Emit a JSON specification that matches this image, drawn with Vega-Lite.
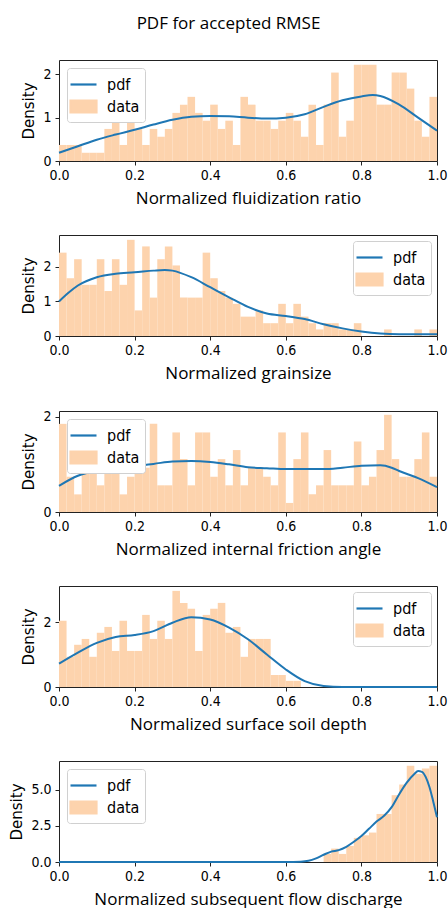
{
"$schema": "https://vega.github.io/schema/vega-lite/v6.json",
"title": {"text": "PDF for accepted RMSE", "font": "Open Sans", "fontSize": 17, "fontWeight": "normal", "color": "#000", "anchor": "middle", "offset": 27},
"padding": {"left": 9, "top": 14, "right": 10, "bottom": 0},
"spacing": 27,
"datasets": {
"hist": [
{"p":1,"x":0,"xe":0.02,"d":0.37},{"p":1,"x":0.02,"xe":0.04,"d":0.37},{"p":1,"x":0.04,"xe":0.06,"d":0.37},{"p":1,"x":0.06,"xe":0.08,"d":0.19},{"p":1,"x":0.08,"xe":0.1,"d":0.19},
{"p":1,"x":0.1,"xe":0.12,"d":0.19},{"p":1,"x":0.12,"xe":0.14,"d":0.74},{"p":1,"x":0.14,"xe":0.16,"d":0.93},{"p":1,"x":0.16,"xe":0.18,"d":0.37},{"p":1,"x":0.18,"xe":0.2,"d":1.11},
{"p":1,"x":0.2,"xe":0.22,"d":0.74},{"p":1,"x":0.22,"xe":0.24,"d":0.37},{"p":1,"x":0.24,"xe":0.26,"d":0.74},{"p":1,"x":0.26,"xe":0.28,"d":0.56},{"p":1,"x":0.28,"xe":0.3,"d":0.74},
{"p":1,"x":0.3,"xe":0.32,"d":1.11},{"p":1,"x":0.32,"xe":0.34,"d":1.30},{"p":1,"x":0.34,"xe":0.36,"d":1.48},{"p":1,"x":0.36,"xe":0.38,"d":1.11},{"p":1,"x":0.38,"xe":0.4,"d":0.93},
{"p":1,"x":0.4,"xe":0.42,"d":1.30},{"p":1,"x":0.42,"xe":0.44,"d":0.74},{"p":1,"x":0.44,"xe":0.46,"d":0.93},{"p":1,"x":0.46,"xe":0.48,"d":0.37},{"p":1,"x":0.48,"xe":0.5,"d":1.48},
{"p":1,"x":0.5,"xe":0.52,"d":1.30},{"p":1,"x":0.52,"xe":0.54,"d":0.93},{"p":1,"x":0.54,"xe":0.56,"d":0.93},{"p":1,"x":0.56,"xe":0.58,"d":0.74},{"p":1,"x":0.58,"xe":0.6,"d":0.93},
{"p":1,"x":0.6,"xe":0.62,"d":1.11},{"p":1,"x":0.62,"xe":0.64,"d":0.93},{"p":1,"x":0.64,"xe":0.66,"d":0.56},{"p":1,"x":0.66,"xe":0.68,"d":1.30},{"p":1,"x":0.68,"xe":0.7,"d":0.37},
{"p":1,"x":0.7,"xe":0.72,"d":1.30},{"p":1,"x":0.72,"xe":0.74,"d":2.04},{"p":1,"x":0.74,"xe":0.76,"d":0.56},{"p":1,"x":0.76,"xe":0.78,"d":0.93},{"p":1,"x":0.78,"xe":0.8,"d":2.22},
{"p":1,"x":0.8,"xe":0.82,"d":2.22},{"p":1,"x":0.82,"xe":0.84,"d":2.22},{"p":1,"x":0.84,"xe":0.86,"d":1.30},{"p":1,"x":0.86,"xe":0.88,"d":1.30},{"p":1,"x":0.88,"xe":0.9,"d":2.04},
{"p":1,"x":0.9,"xe":0.92,"d":2.04},{"p":1,"x":0.92,"xe":0.94,"d":1.67},{"p":1,"x":0.94,"xe":0.96,"d":0.93},{"p":1,"x":0.96,"xe":0.98,"d":0.56},{"p":1,"x":0.98,"xe":1.0,"d":1.48},

{"p":2,"x":0,"xe":0.02,"d":2.41},{"p":2,"x":0.02,"xe":0.04,"d":1.67},{"p":2,"x":0.04,"xe":0.06,"d":2.22},{"p":2,"x":0.06,"xe":0.08,"d":1.48},{"p":2,"x":0.08,"xe":0.1,"d":1.48},
{"p":2,"x":0.1,"xe":0.12,"d":2.22},{"p":2,"x":0.12,"xe":0.14,"d":1.30},{"p":2,"x":0.14,"xe":0.16,"d":2.22},{"p":2,"x":0.16,"xe":0.18,"d":1.48},{"p":2,"x":0.18,"xe":0.2,"d":2.78},
{"p":2,"x":0.2,"xe":0.22,"d":0.74},{"p":2,"x":0.22,"xe":0.24,"d":2.59},{"p":2,"x":0.24,"xe":0.26,"d":1.11},{"p":2,"x":0.26,"xe":0.28,"d":2.22},{"p":2,"x":0.28,"xe":0.3,"d":2.59},
{"p":2,"x":0.3,"xe":0.32,"d":2.04},{"p":2,"x":0.32,"xe":0.34,"d":1.11},{"p":2,"x":0.34,"xe":0.36,"d":1.11},{"p":2,"x":0.36,"xe":0.38,"d":1.11},{"p":2,"x":0.38,"xe":0.4,"d":2.41},
{"p":2,"x":0.4,"xe":0.42,"d":1.67},{"p":2,"x":0.42,"xe":0.44,"d":1.30},{"p":2,"x":0.44,"xe":0.46,"d":1.11},{"p":2,"x":0.46,"xe":0.48,"d":0.93},{"p":2,"x":0.48,"xe":0.5,"d":0.56},
{"p":2,"x":0.5,"xe":0.52,"d":0.56},{"p":2,"x":0.52,"xe":0.54,"d":0.74},{"p":2,"x":0.54,"xe":0.56,"d":0.37},{"p":2,"x":0.56,"xe":0.58,"d":0.37},{"p":2,"x":0.58,"xe":0.6,"d":0.93},
{"p":2,"x":0.6,"xe":0.62,"d":0.37},{"p":2,"x":0.62,"xe":0.64,"d":0.93},{"p":2,"x":0.64,"xe":0.66,"d":0.56},{"p":2,"x":0.66,"xe":0.68,"d":0.37},{"p":2,"x":0.68,"xe":0.7,"d":0.19},
{"p":2,"x":0.7,"xe":0.72,"d":0.37},{"p":2,"x":0.72,"xe":0.74,"d":0.37},{"p":2,"x":0.74,"xe":0.76,"d":0.19},{"p":2,"x":0.76,"xe":0.78,"d":0.19},{"p":2,"x":0.78,"xe":0.8,"d":0.37},
{"p":2,"x":0.86,"xe":0.88,"d":0.19},{"p":2,"x":0.94,"xe":0.96,"d":0.19},{"p":2,"x":0.98,"xe":1.0,"d":0.19},

{"p":3,"x":0,"xe":0.02,"d":1.85},{"p":3,"x":0.02,"xe":0.04,"d":0.74},{"p":3,"x":0.04,"xe":0.06,"d":0.37},{"p":3,"x":0.06,"xe":0.08,"d":1.48},{"p":3,"x":0.08,"xe":0.1,"d":1.30},
{"p":3,"x":0.1,"xe":0.12,"d":0.56},{"p":3,"x":0.12,"xe":0.14,"d":1.48},{"p":3,"x":0.14,"xe":0.16,"d":0.93},{"p":3,"x":0.16,"xe":0.18,"d":0.37},{"p":3,"x":0.18,"xe":0.2,"d":0.74},
{"p":3,"x":0.2,"xe":0.22,"d":0.93},{"p":3,"x":0.22,"xe":0.24,"d":0.93},{"p":3,"x":0.24,"xe":0.26,"d":1.85},{"p":3,"x":0.26,"xe":0.28,"d":0.56},{"p":3,"x":0.28,"xe":0.3,"d":0.56},
{"p":3,"x":0.3,"xe":0.32,"d":1.67},{"p":3,"x":0.32,"xe":0.34,"d":1.11},{"p":3,"x":0.34,"xe":0.36,"d":0.56},{"p":3,"x":0.36,"xe":0.38,"d":1.67},{"p":3,"x":0.38,"xe":0.4,"d":1.67},
{"p":3,"x":0.4,"xe":0.42,"d":0.74},{"p":3,"x":0.42,"xe":0.44,"d":1.11},{"p":3,"x":0.44,"xe":0.46,"d":0.56},{"p":3,"x":0.46,"xe":0.48,"d":1.30},{"p":3,"x":0.48,"xe":0.5,"d":0.56},
{"p":3,"x":0.5,"xe":0.52,"d":0.93},{"p":3,"x":0.52,"xe":0.54,"d":0.93},{"p":3,"x":0.54,"xe":0.56,"d":0.74},{"p":3,"x":0.56,"xe":0.58,"d":0.56},{"p":3,"x":0.58,"xe":0.6,"d":1.67},
{"p":3,"x":0.6,"xe":0.62,"d":0.19},{"p":3,"x":0.62,"xe":0.64,"d":1.11},{"p":3,"x":0.64,"xe":0.66,"d":1.67},{"p":3,"x":0.66,"xe":0.68,"d":0.37},{"p":3,"x":0.68,"xe":0.7,"d":0.56},
{"p":3,"x":0.7,"xe":0.72,"d":1.30},{"p":3,"x":0.72,"xe":0.74,"d":0.56},{"p":3,"x":0.74,"xe":0.76,"d":0.56},{"p":3,"x":0.76,"xe":0.78,"d":0.56},{"p":3,"x":0.78,"xe":0.8,"d":1.48},
{"p":3,"x":0.8,"xe":0.82,"d":0.56},{"p":3,"x":0.82,"xe":0.84,"d":0.74},{"p":3,"x":0.84,"xe":0.86,"d":1.30},{"p":3,"x":0.86,"xe":0.88,"d":2.04},{"p":3,"x":0.88,"xe":0.9,"d":1.11},
{"p":3,"x":0.9,"xe":0.92,"d":0.74},{"p":3,"x":0.92,"xe":0.94,"d":0.74},{"p":3,"x":0.94,"xe":0.96,"d":1.11},{"p":3,"x":0.96,"xe":0.98,"d":1.67},{"p":3,"x":0.98,"xe":1.0,"d":0.74},

{"p":4,"x":0,"xe":0.02,"d":2.04},{"p":4,"x":0.02,"xe":0.04,"d":0.93},{"p":4,"x":0.04,"xe":0.06,"d":1.30},{"p":4,"x":0.06,"xe":0.08,"d":1.48},{"p":4,"x":0.08,"xe":0.1,"d":0.93},
{"p":4,"x":0.1,"xe":0.12,"d":1.67},{"p":4,"x":0.12,"xe":0.14,"d":1.85},{"p":4,"x":0.14,"xe":0.16,"d":1.11},{"p":4,"x":0.16,"xe":0.18,"d":2.04},{"p":4,"x":0.18,"xe":0.2,"d":1.11},
{"p":4,"x":0.2,"xe":0.22,"d":1.11},{"p":4,"x":0.22,"xe":0.24,"d":2.22},{"p":4,"x":0.24,"xe":0.26,"d":1.48},{"p":4,"x":0.26,"xe":0.28,"d":2.04},{"p":4,"x":0.28,"xe":0.3,"d":1.48},
{"p":4,"x":0.3,"xe":0.32,"d":2.96},{"p":4,"x":0.32,"xe":0.34,"d":2.59},{"p":4,"x":0.34,"xe":0.36,"d":2.41},{"p":4,"x":0.36,"xe":0.38,"d":1.11},{"p":4,"x":0.38,"xe":0.4,"d":2.22},
{"p":4,"x":0.4,"xe":0.42,"d":2.41},{"p":4,"x":0.42,"xe":0.44,"d":2.59},{"p":4,"x":0.44,"xe":0.46,"d":1.67},{"p":4,"x":0.46,"xe":0.48,"d":1.85},{"p":4,"x":0.48,"xe":0.5,"d":0.93},
{"p":4,"x":0.5,"xe":0.52,"d":1.48},{"p":4,"x":0.52,"xe":0.54,"d":1.48},{"p":4,"x":0.54,"xe":0.56,"d":1.48},{"p":4,"x":0.56,"xe":0.58,"d":0.37},{"p":4,"x":0.58,"xe":0.6,"d":0.37},
{"p":4,"x":0.6,"xe":0.62,"d":0.19},{"p":4,"x":0.62,"xe":0.64,"d":0.19},

{"p":5,"x":0.7,"xe":0.72,"d":0.56},{"p":5,"x":0.72,"xe":0.74,"d":0.93},{"p":5,"x":0.74,"xe":0.76,"d":0.56},{"p":5,"x":0.76,"xe":0.78,"d":1.11},{"p":5,"x":0.78,"xe":0.8,"d":1.67},
{"p":5,"x":0.8,"xe":0.82,"d":1.85},{"p":5,"x":0.82,"xe":0.84,"d":2.04},{"p":5,"x":0.84,"xe":0.86,"d":3.33},{"p":5,"x":0.86,"xe":0.88,"d":3.33},{"p":5,"x":0.88,"xe":0.9,"d":4.63},
{"p":5,"x":0.9,"xe":0.92,"d":5.37},{"p":5,"x":0.92,"xe":0.94,"d":6.67},{"p":5,"x":0.94,"xe":0.96,"d":6.11},{"p":5,"x":0.96,"xe":0.98,"d":6.48},{"p":5,"x":0.98,"xe":1.0,"d":6.67}
],
"pdf": [
{"p":1,"x":0,"d":0.19},{"p":1,"x":0.05,"d":0.34},{"p":1,"x":0.1,"d":0.49},{"p":1,"x":0.15,"d":0.61},{"p":1,"x":0.2,"d":0.72},{"p":1,"x":0.25,"d":0.84},{"p":1,"x":0.3,"d":0.95},{"p":1,"x":0.35,"d":1.02},{"p":1,"x":0.4,"d":1.04},{"p":1,"x":0.45,"d":1.03},{"p":1,"x":0.5,"d":1.0},{"p":1,"x":0.55,"d":0.98},{"p":1,"x":0.6,"d":1.0},{"p":1,"x":0.65,"d":1.08},{"p":1,"x":0.7,"d":1.25},{"p":1,"x":0.75,"d":1.4},{"p":1,"x":0.8,"d":1.49},{"p":1,"x":0.83,"d":1.52},{"p":1,"x":0.85,"d":1.5},{"p":1,"x":0.9,"d":1.3},{"p":1,"x":0.95,"d":1.0},{"p":1,"x":1.0,"d":0.7},
{"p":2,"x":0,"d":1.0},{"p":2,"x":0.025,"d":1.25},{"p":2,"x":0.05,"d":1.46},{"p":2,"x":0.1,"d":1.7},{"p":2,"x":0.15,"d":1.8},{"p":2,"x":0.2,"d":1.84},{"p":2,"x":0.25,"d":1.89},{"p":2,"x":0.28,"d":1.91},{"p":2,"x":0.3,"d":1.89},{"p":2,"x":0.35,"d":1.7},{"p":2,"x":0.4,"d":1.41},{"p":2,"x":0.45,"d":1.12},{"p":2,"x":0.5,"d":0.84},{"p":2,"x":0.55,"d":0.65},{"p":2,"x":0.6,"d":0.58},{"p":2,"x":0.65,"d":0.49},{"p":2,"x":0.7,"d":0.34},{"p":2,"x":0.75,"d":0.22},{"p":2,"x":0.8,"d":0.13},{"p":2,"x":0.85,"d":0.07},{"p":2,"x":0.9,"d":0.05},{"p":2,"x":0.95,"d":0.05},{"p":2,"x":1.0,"d":0.05},
{"p":3,"x":0,"d":0.55},{"p":3,"x":0.05,"d":0.76},{"p":3,"x":0.1,"d":0.87},{"p":3,"x":0.15,"d":0.93},{"p":3,"x":0.2,"d":0.97},{"p":3,"x":0.25,"d":1.01},{"p":3,"x":0.3,"d":1.06},{"p":3,"x":0.35,"d":1.07},{"p":3,"x":0.4,"d":1.05},{"p":3,"x":0.45,"d":1.0},{"p":3,"x":0.5,"d":0.94},{"p":3,"x":0.55,"d":0.92},{"p":3,"x":0.6,"d":0.9},{"p":3,"x":0.65,"d":0.9},{"p":3,"x":0.7,"d":0.9},{"p":3,"x":0.75,"d":0.93},{"p":3,"x":0.8,"d":0.97},{"p":3,"x":0.85,"d":0.98},{"p":3,"x":0.88,"d":0.93},{"p":3,"x":0.9,"d":0.86},{"p":3,"x":0.95,"d":0.71},{"p":3,"x":1.0,"d":0.52},
{"p":4,"x":0,"d":0.72},{"p":4,"x":0.05,"d":1.06},{"p":4,"x":0.1,"d":1.36},{"p":4,"x":0.15,"d":1.54},{"p":4,"x":0.2,"d":1.6},{"p":4,"x":0.25,"d":1.72},{"p":4,"x":0.3,"d":1.98},{"p":4,"x":0.35,"d":2.15},{"p":4,"x":0.4,"d":2.08},{"p":4,"x":0.45,"d":1.83},{"p":4,"x":0.5,"d":1.47},{"p":4,"x":0.55,"d":1.0},{"p":4,"x":0.6,"d":0.54},{"p":4,"x":0.65,"d":0.18},{"p":4,"x":0.7,"d":0.03},{"p":4,"x":0.75,"d":0.0},{"p":4,"x":0.8,"d":0},{"p":4,"x":0.9,"d":0},{"p":4,"x":1.0,"d":0},
{"p":5,"x":0,"d":0},{"p":5,"x":0.2,"d":0},{"p":5,"x":0.4,"d":0},{"p":5,"x":0.6,"d":0},{"p":5,"x":0.64,"d":0.02},{"p":5,"x":0.66,"d":0.08},{"p":5,"x":0.68,"d":0.25},{"p":5,"x":0.7,"d":0.5},{"p":5,"x":0.72,"d":0.72},{"p":5,"x":0.74,"d":0.82},{"p":5,"x":0.76,"d":1.05},{"p":5,"x":0.78,"d":1.4},{"p":5,"x":0.8,"d":1.8},{"p":5,"x":0.82,"d":2.3},{"p":5,"x":0.84,"d":2.8},{"p":5,"x":0.86,"d":3.2},{"p":5,"x":0.88,"d":3.8},{"p":5,"x":0.9,"d":4.7},{"p":5,"x":0.92,"d":5.5},{"p":5,"x":0.94,"d":6.1},{"p":5,"x":0.95,"d":6.3},{"p":5,"x":0.96,"d":6.25},{"p":5,"x":0.97,"d":5.9},{"p":5,"x":0.98,"d":5.2},{"p":5,"x":0.99,"d":4.2},{"p":5,"x":1.0,"d":3.1}
]
},
"vconcat": [
{
"width": 378, "height": 101,
"encoding": {
"x": {"field": "x", "type": "quantitative", "scale": {"domain": [0, 1], "nice": false}, "axis": {"values": [0, 0.2, 0.4, 0.6, 0.8, 1], "format": ".1f", "title": "Normalized fluidization ratio"}},
"y": {"field": "d", "type": "quantitative", "scale": {"domain": [0, 2.33], "nice": false}, "axis": {"values": [0, 1, 2], "format": "d", "title": "Density"}}
},
"layer": [
{"data": {"name": "hist"}, "transform": [{"filter": "datum.p === 1"}], "mark": {"type": "rect"},
"encoding": {"x2": {"field": "xe"}, "y2": {"datum": 0},
"color": {"datum": "data", "scale": {"domain": ["pdf", "data"], "range": ["#1f77b4", "#fdd3ad"]},
"legend": {"title": null, "orient": "top-left", "offset": 8,
"encode": {"symbols": {"update": {"shape": {"signal": "datum.value === 'pdf' ? 'M-1.3,0H1.3' : 'M-1.3,-0.6H1.3V0.6H-1.3Z'"}, "fill": {"signal": "datum.value === 'pdf' ? 'transparent' : '#fdd3ad'"}, "stroke": {"signal": "datum.value === 'pdf' ? '#1f77b4' : 'transparent'"}, "strokeWidth": {"value": 2.2}, "opacity": {"value": 1}}}}}}}},
{"data": {"name": "pdf"}, "transform": [{"filter": "datum.p === 1"}], "mark": {"type": "line", "strokeWidth": 2, "interpolate": "monotone"},
"encoding": {"color": {"datum": "pdf"}}}
]
},
{
"width": 378, "height": 101,
"encoding": {
"x": {"field": "x", "type": "quantitative", "scale": {"domain": [0, 1], "nice": false}, "axis": {"values": [0, 0.2, 0.4, 0.6, 0.8, 1], "format": ".1f", "title": "Normalized grainsize"}},
"y": {"field": "d", "type": "quantitative", "scale": {"domain": [0, 2.92], "nice": false}, "axis": {"values": [0, 1, 2], "format": "d", "title": "Density"}}
},
"layer": [
{"data": {"name": "hist"}, "transform": [{"filter": "datum.p === 2"}], "mark": {"type": "rect"},
"encoding": {"x2": {"field": "xe"}, "y2": {"datum": 0},
"color": {"datum": "data", "scale": {"domain": ["pdf", "data"], "range": ["#1f77b4", "#fdd3ad"]},
"legend": {"title": null, "orient": "top-right", "offset": 6,
"encode": {"symbols": {"update": {"shape": {"signal": "datum.value === 'pdf' ? 'M-1.3,0H1.3' : 'M-1.3,-0.6H1.3V0.6H-1.3Z'"}, "fill": {"signal": "datum.value === 'pdf' ? 'transparent' : '#fdd3ad'"}, "stroke": {"signal": "datum.value === 'pdf' ? '#1f77b4' : 'transparent'"}, "strokeWidth": {"value": 2.2}, "opacity": {"value": 1}}}}}}}},
{"data": {"name": "pdf"}, "transform": [{"filter": "datum.p === 2"}], "mark": {"type": "line", "strokeWidth": 2, "interpolate": "monotone"},
"encoding": {"color": {"datum": "pdf"}}}
]
},
{
"width": 378, "height": 101,
"encoding": {
"x": {"field": "x", "type": "quantitative", "scale": {"domain": [0, 1], "nice": false}, "axis": {"values": [0, 0.2, 0.4, 0.6, 0.8, 1], "format": ".1f", "title": "Normalized internal friction angle"}},
"y": {"field": "d", "type": "quantitative", "scale": {"domain": [0, 2.12], "nice": false}, "axis": {"values": [0, 1, 2], "format": "d", "title": "Density"}}
},
"layer": [
{"data": {"name": "hist"}, "transform": [{"filter": "datum.p === 3"}], "mark": {"type": "rect"},
"encoding": {"x2": {"field": "xe"}, "y2": {"datum": 0},
"color": {"datum": "data", "scale": {"domain": ["pdf", "data"], "range": ["#1f77b4", "#fdd3ad"]},
"legend": {"title": null, "orient": "top-left", "offset": 8,
"encode": {"symbols": {"update": {"shape": {"signal": "datum.value === 'pdf' ? 'M-1.3,0H1.3' : 'M-1.3,-0.6H1.3V0.6H-1.3Z'"}, "fill": {"signal": "datum.value === 'pdf' ? 'transparent' : '#fdd3ad'"}, "stroke": {"signal": "datum.value === 'pdf' ? '#1f77b4' : 'transparent'"}, "strokeWidth": {"value": 2.2}, "opacity": {"value": 1}}}}}}}},
{"data": {"name": "pdf"}, "transform": [{"filter": "datum.p === 3"}], "mark": {"type": "line", "strokeWidth": 2, "interpolate": "monotone"},
"encoding": {"color": {"datum": "pdf"}}}
]
},
{
"width": 378, "height": 101,
"encoding": {
"x": {"field": "x", "type": "quantitative", "scale": {"domain": [0, 1], "nice": false}, "axis": {"values": [0, 0.2, 0.4, 0.6, 0.8, 1], "format": ".1f", "title": "Normalized surface soil depth"}},
"y": {"field": "d", "type": "quantitative", "scale": {"domain": [0, 3.11], "nice": false}, "axis": {"values": [0, 2], "format": "d", "title": "Density"}}
},
"layer": [
{"data": {"name": "hist"}, "transform": [{"filter": "datum.p === 4"}], "mark": {"type": "rect"},
"encoding": {"x2": {"field": "xe"}, "y2": {"datum": 0},
"color": {"datum": "data", "scale": {"domain": ["pdf", "data"], "range": ["#1f77b4", "#fdd3ad"]},
"legend": {"title": null, "orient": "top-right", "offset": 6,
"encode": {"symbols": {"update": {"shape": {"signal": "datum.value === 'pdf' ? 'M-1.3,0H1.3' : 'M-1.3,-0.6H1.3V0.6H-1.3Z'"}, "fill": {"signal": "datum.value === 'pdf' ? 'transparent' : '#fdd3ad'"}, "stroke": {"signal": "datum.value === 'pdf' ? '#1f77b4' : 'transparent'"}, "strokeWidth": {"value": 2.2}, "opacity": {"value": 1}}}}}}}},
{"data": {"name": "pdf"}, "transform": [{"filter": "datum.p === 4"}], "mark": {"type": "line", "strokeWidth": 2, "interpolate": "monotone"},
"encoding": {"color": {"datum": "pdf"}}}
]
},
{
"width": 378, "height": 101,
"encoding": {
"x": {"field": "x", "type": "quantitative", "scale": {"domain": [0, 1], "nice": false}, "axis": {"values": [0, 0.2, 0.4, 0.6, 0.8, 1], "format": ".1f", "title": "Normalized subsequent flow discharge"}},
"y": {"field": "d", "type": "quantitative", "scale": {"domain": [0, 7.0], "nice": false}, "axis": {"values": [0, 2.5, 5], "format": ".1f", "title": "Density"}}
},
"layer": [
{"data": {"name": "hist"}, "transform": [{"filter": "datum.p === 5"}], "mark": {"type": "rect"},
"encoding": {"x2": {"field": "xe"}, "y2": {"datum": 0},
"color": {"datum": "data", "scale": {"domain": ["pdf", "data"], "range": ["#1f77b4", "#fdd3ad"]},
"legend": {"title": null, "orient": "top-left", "offset": 8,
"encode": {"symbols": {"update": {"shape": {"signal": "datum.value === 'pdf' ? 'M-1.3,0H1.3' : 'M-1.3,-0.6H1.3V0.6H-1.3Z'"}, "fill": {"signal": "datum.value === 'pdf' ? 'transparent' : '#fdd3ad'"}, "stroke": {"signal": "datum.value === 'pdf' ? '#1f77b4' : 'transparent'"}, "strokeWidth": {"value": 2.2}, "opacity": {"value": 1}}}}}}}},
{"data": {"name": "pdf"}, "transform": [{"filter": "datum.p === 5"}], "mark": {"type": "line", "strokeWidth": 2, "interpolate": "monotone"},
"encoding": {"color": {"datum": "pdf"}}}
]
}
],
"resolve": {"scale": {"color": "independent", "x": "independent", "y": "independent"}, "legend": {"color": "independent"}},
"config": {
"view": {"stroke": "#222", "strokeWidth": 1},
"axis": {"grid": false, "domain": false, "labelFont": "DejaVu Sans Condensed, DejaVu Sans, sans-serif", "labelFontSize": 14, "labelColor": "#000", "tickColor": "#222", "tickSize": 4, "titleColor": "#000", "titleFontWeight": "normal"},
"axisX": {"titleFont": "Open Sans", "titleFontSize": 17, "labelPadding": 3, "titlePadding": 8, "labelFlush": false},
"axisY": {"titleFont": "DejaVu Sans", "titleFontSize": 15, "labelPadding": 4, "titlePadding": 6},
"legend": {"labelFont": "DejaVu Sans Condensed, DejaVu Sans, sans-serif", "labelFontSize": 16, "labelColor": "#000", "symbolSize": 400, "labelOffset": 12, "padding": 5, "rowPadding": 2, "strokeColor": "#d0d0d0", "fillColor": "#ffffff", "cornerRadius": 3}
}
}
